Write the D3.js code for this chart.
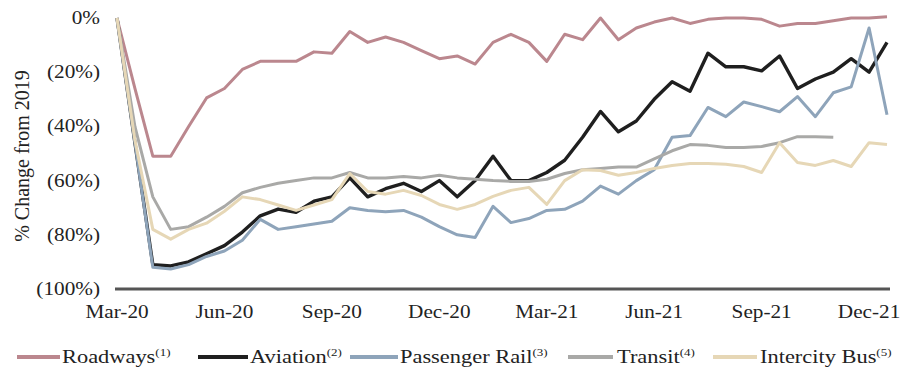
<!DOCTYPE html>
<html>
<head>
<meta charset="utf-8">
<script src="https://cdn.jsdelivr.net/npm/d3@7"></script>
<style>
  html, body { margin: 0; padding: 0; background: #fff; }
  svg { display: block; }
</style>
</head>
<body>
<svg id="chart" width="904" height="371" font-family="'Liberation Serif', 'Times New Roman', Times, 'DejaVu Serif', serif" fill="#222"></svg>
<script>
// Semi-monthly readings, Mar-20 (index 0) through the second half of Dec-21 (index 43)
const tickLabels = ["Mar-20", "Jun-20", "Sep-20", "Dec-20", "Mar-21", "Jun-21", "Sep-21", "Dec-21"];
const tickIndex = [0, 6, 12, 18, 24, 30, 36, 42];
const yTicks = [0, -20, -40, -60, -80, -100];

const roadways = [0, -26, -51, -51, -40, -29.5, -26, -19, -16, -16, -16, -12.5, -13, -5, -9, -7, -9, -12, -15, -14, -17, -9, -6, -9, -16, -6, -8, 0, -8, -3.7, -1.5, 0, -2, -0.5, 0, 0, -0.5, -3, -2, -2, -1, 0, 0, 0.5];
const aviation = [0, -46, -91, -91.5, -90, -87, -84, -79, -73, -70.5, -71.7, -67.6, -66, -59, -66, -63, -61, -64, -60, -66, -60, -51, -60, -60, -57, -52.5, -44, -34.5, -42, -38, -30, -23.5, -27, -13, -18, -18, -19.5, -14, -26, -22.5, -20, -15, -20, -9];
const passengerRail = [0, -46, -92, -92.6, -91, -88, -86, -82, -74.3, -78, -77, -76, -75, -70, -71, -71.5, -71, -73.5, -77, -80, -81, -69.5, -75.5, -74, -71, -70.6, -67.6, -62, -65, -60, -56, -44, -43.4, -33, -36.4, -31, -32.7, -34.6, -29, -36.4, -27.6, -25.4, -3.7, -35.7];
const transit = [0, -40, -66, -78, -77, -73.5, -69.5, -64.5, -62.5, -61, -60, -59, -59, -57, -59, -59, -58.5, -59, -58, -59, -59.5, -60, -60.3, -60.3, -59.5, -57.4, -56, -55.5, -55, -55, -52, -49, -46.7, -47, -47.8, -47.8, -47.4, -46, -43.8, -43.8, -44];
const intercityBus = [0, -45, -78, -81.6, -78, -75.7, -71.3, -66, -67, -69, -71, -69, -67, -57.4, -64, -65, -63.6, -65.5, -68.8, -70.6, -68.8, -65.8, -63.6, -62.5, -68.8, -60, -56, -56.3, -58, -57, -55.5, -54.4, -53.7, -53.7, -54, -54.8, -57, -46, -53.3, -54.4, -52.6, -54.8, -46, -46.7];

const seriesNames = ["Roadways", "Aviation", "Passenger Rail", "Transit", "Intercity Bus"];
const seriesNotes = ["(1)", "(2)", "(3)", "(4)", "(5)"];
const seriesColors = ["#bb878e", "#1f1f1f", "#8ea4ba", "#a9a9a7", "#e6d7b6"];
const seriesData = [roadways, aviation, passengerRail, transit, intercityBus];

const svg = d3.select("#chart");
const x = d3.scaleLinear().domain([0, 43]).range([117, 887]);
const y = d3.scaleLinear().domain([-100, 0]).range([289, 18]);
const SX = 1.18; // horizontal stretch of the serif labels

function fmt(v) {
  return v === 0 ? "0%" : "(" + Math.abs(v) + "%)";
}

// y tick labels (no axis line, no gridlines)
svg.append("g").selectAll("text").data(yTicks).join("text")
  .attr("text-anchor", "end")
  .attr("font-size", 18)
  .attr("transform", d => `translate(100,${y(d) + 6}) scale(${SX},1)`)
  .text(fmt);

// y axis title
svg.append("text")
  .attr("text-anchor", "middle")
  .attr("font-size", 20)
  .attr("transform", "translate(29,156) rotate(-90)")
  .text("% Change from 2019");

// x baseline
svg.append("line")
  .attr("x1", x(0) - 2).attr("x2", x(43) + 3)
  .attr("y1", y(-100)).attr("y2", y(-100))
  .attr("stroke", "#555").attr("stroke-width", 3);

// x tick labels
svg.append("g").selectAll("text").data(tickIndex).join("text")
  .attr("text-anchor", "middle")
  .attr("font-size", 18)
  .attr("transform", (d) => `translate(${x(d)},318) scale(${SX},1)`)
  .text((d, i) => tickLabels[i]);

// series lines
const line = d3.line().x((d, i) => x(i)).y(d => y(d)).curve(d3.curveLinear);
svg.append("g").selectAll("path").data(seriesData).join("path")
  .attr("fill", "none")
  .attr("stroke", (d, i) => seriesColors[i])
  .attr("stroke-width", (d, i) => i === 1 ? 3.4 : 3)
  .attr("stroke-linejoin", "round")
  .attr("d", line);

// legend
const legendSwatch = [[17, 60], [198, 248], [350, 398], [568, 613], [713, 757]];
const legendText = [62, 250, 400, 617, 760];
const ly = 357;
const lg = svg.append("g");
seriesNames.forEach((name, i) => {
  lg.append("line")
    .attr("x1", legendSwatch[i][0]).attr("x2", legendSwatch[i][1])
    .attr("y1", ly).attr("y2", ly)
    .attr("stroke", seriesColors[i]).attr("stroke-width", 4);
  const t = lg.append("text")
    .attr("font-size", 19)
    .attr("transform", `translate(${legendText[i]},${ly + 6}) scale(${SX},1)`);
  t.append("tspan").text(name);
  t.append("tspan").attr("font-size", 11).attr("dy", -7).text(seriesNotes[i]);
});
</script>
</body>
</html>
